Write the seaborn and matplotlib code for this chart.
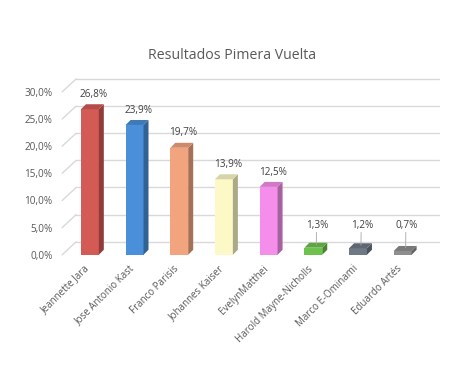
import matplotlib
matplotlib.use("Agg")
import matplotlib.pyplot as plt
import matplotlib.colors as mcolors
import matplotlib.transforms as mtransforms
from matplotlib.patches import Polygon
import seaborn as sns

# ---- data ----
candidates = ["Jeannette Jara", "Jose Antonio Kast", "Franco Parisis", "Johannes Kaiser",
              "EvelynMatthei", "Harold Mayne-Nicholls", "Marco E-Ominami", "Eduardo Artés"]
values = [26.8, 23.9, 19.7, 13.9, 12.5, 1.3, 1.2, 0.7]
y_ticks = [0, 5, 10, 15, 20, 25, 30]
title = "Resultados Pimera Vuelta"

# ---- style ----
front_colors = ["#D45A55", "#4A8FD9", "#F2A47F", "#FCF9C6",
                "#F48EEA", "#6DC24B", "#6F7986", "#8E8E8E"]
text_color = "#595959"
grid_color = "#D9D9D9"

sns.set_theme(style="white")
plt.rcParams["font.family"] = ["Open Sans", "DejaVu Sans"]

fig = plt.figure(figsize=(4.64, 3.78), dpi=100)
ax = fig.add_axes([0.134, 0.326, 0.782, 0.431])

sns.barplot(x=candidates, y=values, hue=candidates, palette=front_colors,
            legend=False, width=0.4, saturation=1, ax=ax, zorder=3, linewidth=0)

ax.set_xlim(-0.62, 7.5)
ax.set_ylim(0, 30)
sns.despine(ax=ax, left=True, bottom=True)
ax.tick_params(length=0)
ax.set_xlabel("")
ax.set_ylabel("")

fmt = lambda v: f"{v:.1f}%".replace(".", ",")
ax.set_yticks(y_ticks)
ax.set_yticklabels([fmt(t) for t in y_ticks], fontsize=7.2, color=text_color)
ax.tick_params(axis="y", pad=7)
ax.tick_params(axis="x", pad=9)
for lab in ax.get_xticklabels():
    lab.set_rotation(45)
    lab.set_ha("right")
    lab.set_va("center")
    lab.set_rotation_mode("anchor")
    lab.set_fontsize(7)
    lab.set_color(text_color)
    lab.set_transform(lab.get_transform() + mtransforms.ScaledTranslation(-2/100, 0, fig.dpi_scale_trans))

fig.text(0.5, 0.852, title, ha="center", va="center", fontsize=10.2, color=text_color)

# pixel scale
bbox = ax.get_window_extent()
xl = ax.get_xlim()
px_x = bbox.width / (xl[1] - xl[0])
px_y = bbox.height / 30.0

# back-wall gridlines (offset in depth)
wall = mtransforms.ScaledTranslation(14/100, 13/100, fig.dpi_scale_trans)
for t in y_ticks:
    ax.plot([xl[0], xl[1]], [t, t], color=grid_color, lw=1.0,
            transform=ax.transData + wall, clip_on=False, zorder=0)
    p0 = ax.transData.transform((xl[0], t))
    ax.plot([p0[0], p0[0] + 14], [p0[1], p0[1] + 13], color=grid_color, lw=1.0,
            transform=None, clip_on=False, zorder=0)

# 3D faces derived from the seaborn bars
ddx = 5 / px_x
ddy = 5 / px_y
for p in list(ax.patches):
    x0, w, h = p.get_x(), p.get_width(), p.get_height()
    rgb = mcolors.to_rgb(p.get_facecolor())
    side = tuple(c * 0.68 for c in rgb)
    top = tuple(c * 0.85 for c in rgb)
    ax.add_patch(Polygon([(x0 + w, 0), (x0 + w + ddx, ddy), (x0 + w + ddx, h + ddy), (x0 + w, h)],
                         closed=True, facecolor=side, edgecolor="none", zorder=3, clip_on=False))
    ax.add_patch(Polygon([(x0, h), (x0 + ddx, h + ddy), (x0 + w + ddx, h + ddy), (x0 + w, h)],
                         closed=True, facecolor=top, edgecolor="none", zorder=3, clip_on=False))

# data labels
for i, v in enumerate(values):
    xc = i + ddx * 0.8
    ly = max(v, 2.6) + ddy + 0.8
    ax.text(xc, ly, fmt(v), ha="center", va="bottom", fontsize=7.2, color="#404040",
            zorder=5, clip_on=False)
    if v < 2.6:
        ax.plot([xc - 0.02, i + ddx * 0.6], [ly - 0.2, v + ddy * 0.6], color="#A6A6A6",
                lw=0.6, zorder=4)

fig.savefig("out.png", dpi=100)
